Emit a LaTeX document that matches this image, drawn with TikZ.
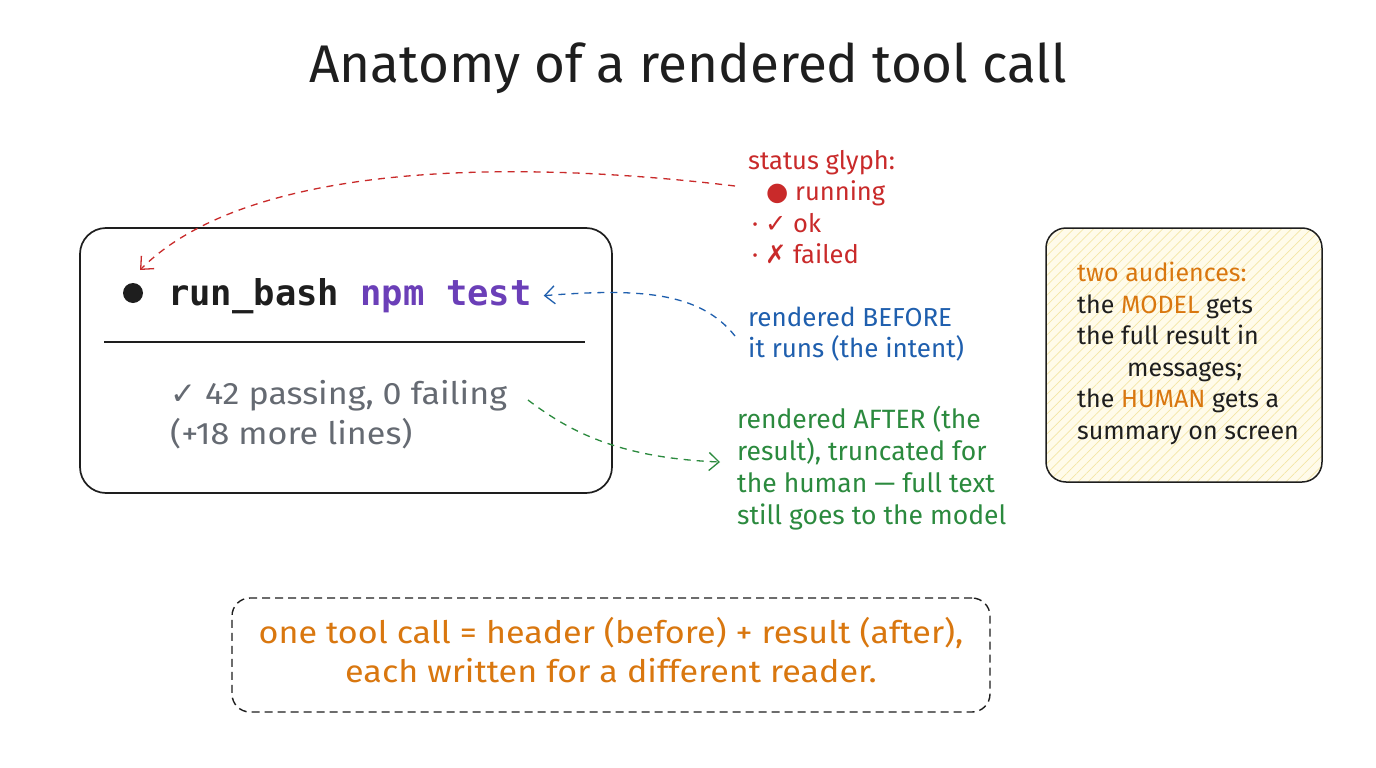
\documentclass[tikz,border=0pt]{standalone}
\usepackage{fontspec}
\setmainfont{Fira Sans}
\setmonofont{DejaVu Sans Mono}
\newfontfamily\symf{DejaVu Sans}
\newfontfamily\widef{Fira Sans}[FakeStretch=1.1]
\usetikzlibrary{patterns.meta,arrows.meta}
\definecolor{cred}{HTML}{C92A2A}
\definecolor{cblue}{HTML}{1F5FAE}
\definecolor{cgreen}{HTML}{2B8A3E}
\definecolor{corange}{HTML}{D9770F}
\definecolor{cpurple}{HTML}{6B3FB8}
\definecolor{cgray}{HTML}{656A72}
\definecolor{cink}{HTML}{1E1E1E}
\definecolor{cybg}{HTML}{FFFBEA}
\definecolor{cyhatch}{HTML}{F3E6A6}
\tikzset{
  note/.style={anchor=north west, inner sep=0pt, align=left},
  conn/.style={dashed, dash pattern=on 7pt off 6pt, line width=1.3pt, -{Straight Barb[length=10pt,width=18pt,line width=1.3pt]}},
}
\begin{document}
\begin{tikzpicture}[x=1pt,y=-1pt]
\useasboundingbox (0,0) rectangle (1376,768);
\fill[white] (0,0) rectangle (1376,768);

% title
\node[font=\fontsize{53}{60}\selectfont, text=cink] (title) at (688,68) {Anatomy of a rendered tool call};

% main card
\node[draw=cink, line width=1.7pt, rounded corners=26pt, minimum width=532pt, minimum height=265pt, inner sep=0] (card) at (346,360.5) {};
\draw[cink, line width=1.4pt] (104,342) -- (585,342);
\node[circle, fill=cink, minimum size=20pt, inner sep=0] (dot) at (133,293) {};
\node[anchor=base west, inner sep=0, font=\ttfamily\bfseries\fontsize{35.5}{40}\selectfont, text=cink] (cmd) at (168,305) {run\_bash \textcolor{cpurple}{npm test}};
\node[note, text=cgray, font=\widef\fontsize{31}{40}\selectfont] (result) at (170,380) {{\symf\char"2713} 42 passing, 0 failing\\(+18 more lines)};

% status glyph note
\node[note, text=cred, font=\fontsize{25.5}{31.5}\selectfont] (status) at (748,150) {status glyph:\\\hspace*{18pt}{\symf\char"25CF} running\\\hspace*{4pt}· {\symf\char"2713} ok\\\hspace*{4pt}· {\symf\char"2717} failed};

% before note
\node[note, text=cblue, font=\fontsize{26}{31}\selectfont] (before) at (748,307) {rendered BEFORE\\it runs (the intent)};

% after note
\node[note, text=cgreen, font=\fontsize{26.5}{32}\selectfont] (after) at (737,406) {rendered AFTER (the\\result), truncated for\\the human — full text\\still goes to the model};

% audiences box
\node[draw=cink, line width=1.5pt, rounded corners=20pt, minimum width=276pt, minimum height=254pt, inner sep=0,
      preaction={fill=cybg}, pattern={Lines[angle=45,distance=7pt,line width=0.7pt]}, pattern color=cyhatch] (aud) at (1184,355) {};
\node[note, text=cink, font=\fontsize{25}{31.5}\selectfont] (audtext) at (1077,262) {\textcolor{corange}{two audiences:}\\the \textcolor{corange}{MODEL} gets\\the full result in\\\hspace*{50pt}messages;\\the \textcolor{corange}{HUMAN} gets a\\summary on screen};

% summary box
\node[draw=cink, dashed, dash pattern=on 8pt off 5pt, line width=1.4pt, rounded corners=18pt, minimum width=758pt, minimum height=114pt, inner sep=0] (summary) at (611,655) {};
\node[align=center, inner sep=0, text=corange, font=\widef\fontsize{31}{39}\selectfont] (summarytext) at (611,650) {one tool call = header (before) + result (after),\\each written for a different reader.};

% connectors
\coordinate (rs) at (735,186);
\coordinate (re) at (140,270);
\draw[conn, cred] (rs) .. controls (520,160) and (250,160) .. (re);
\coordinate (bs) at (735,336);
\draw[conn, cblue] (bs) .. controls (700,292) and (640,288) .. ([xshift=12pt]cmd.east);
\coordinate (gs) at (528,400);
\coordinate (ge) at (720,462);
\draw[conn, cgreen] (gs) .. controls (570,432) and (620,458) .. (ge);
\end{tikzpicture}
\end{document}
